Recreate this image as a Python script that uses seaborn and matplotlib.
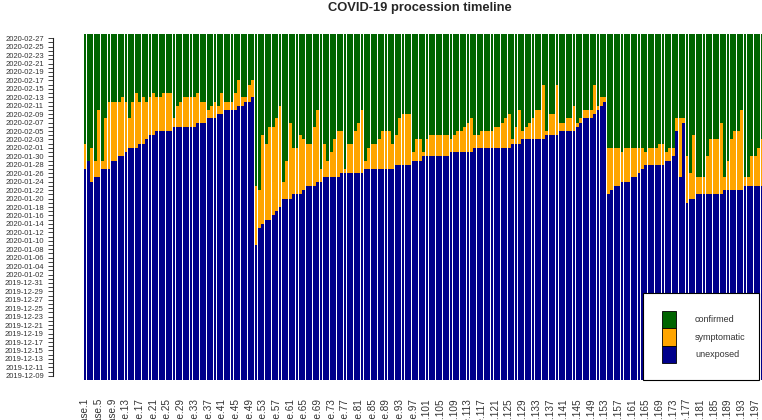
import pandas as pd
import matplotlib
matplotlib.use("Agg")
import matplotlib.pyplot as plt
import seaborn as sns
from matplotlib.patches import Rectangle

# days counted from 2019-12-08
origin = pd.Timestamp("2019-12-08")
timeline_end = 82  # 2020-02-28, every bar runs up to here

# end of the unexposed period, per case
unexposed_end = [
    50, 52, 47, 48, 48, 50, 50, 50, 52, 52, 53, 53, 54, 55, 55, 55, 56, 56, 57, 58,
    58, 59, 59, 59, 59, 59, 60, 60, 60, 60, 60, 60, 60, 61, 61, 61, 62, 62, 62, 63,
    63, 64, 64, 64, 64, 65, 65, 66, 66, 67, 32, 36, 37, 38, 38, 39, 40, 41, 43, 43,
    43, 44, 44, 44, 45, 46, 46, 46, 47, 47, 48, 48, 48, 48, 48, 49, 49, 49, 49, 49,
    49, 49, 50, 50, 50, 50, 50, 50, 50, 50, 50, 51, 51, 51, 51, 51, 52, 52, 52, 53,
    53, 53, 53, 53, 53, 53, 53, 54, 54, 54, 54, 54, 54, 54, 55, 55, 55, 55, 55, 55,
    55, 55, 55, 55, 55, 56, 56, 56, 57, 57, 57, 57, 57, 57, 57, 58, 58, 58, 58, 59,
    59, 59, 59, 59, 60, 61, 62, 62, 62, 63, 64, 65, 66, 44, 45, 46, 46, 47, 47, 47,
    48, 48, 49, 50, 51, 51, 51, 51, 51, 51, 52, 52, 53, 59, 48, 61, 42, 43, 43, 44,
    44, 44, 44, 44, 44, 44, 44, 45, 45, 45, 45, 45, 45, 46, 46, 46, 46, 46, 46, 46,
]

# end of the symptomatic period (confirmation date), per case
symptomatic_end = [
    56, 52, 55, 52, 64, 52, 62, 66, 66, 66, 66, 67, 66, 62, 66, 68, 66, 67, 66, 67,
    68, 67, 67, 68, 68, 68, 62, 65, 66, 67, 67, 67, 67, 68, 66, 66, 64, 65, 66, 65,
    68, 66, 66, 66, 68, 71, 67, 67, 70, 71, 46, 45, 58, 56, 60, 60, 62, 65, 47, 52,
    61, 55, 55, 58, 57, 56, 56, 60, 64, 50, 56, 52, 54, 57, 59, 59, 50, 56, 56, 59,
    61, 64, 52, 55, 56, 56, 57, 59, 59, 59, 56, 58, 62, 63, 63, 63, 54, 57, 57, 54,
    57, 58, 58, 58, 58, 58, 58, 57, 58, 59, 59, 60, 61, 62, 58, 58, 59, 59, 59, 59,
    60, 60, 61, 62, 63, 57, 60, 64, 59, 60, 61, 62, 64, 64, 70, 59, 63, 63, 70, 61,
    61, 62, 62, 65, 61, 62, 64, 64, 64, 70, 65, 67, 67, 55, 55, 55, 55, 54, 55, 55,
    55, 55, 55, 55, 54, 55, 55, 55, 56, 56, 54, 55, 55, 62, 62, 62, 53, 49, 58, 48,
    48, 48, 53, 57, 57, 57, 61, 48, 52, 57, 59, 59, 64, 48, 48, 53, 53, 55, 57, 57,
]

cases = [f"case.{i}" for i in range(1, len(unexposed_end) + 1)]
df = pd.DataFrame({
    "case": cases,
    "unexposed": unexposed_end,
    "symptomatic": symptomatic_end,
    "confirmed": timeline_end,
})

sns.set_style("white")
plt.rcParams["font.family"] = ["Liberation Sans", "DejaVu Sans"]

W, H = 762, 420
fig = plt.figure(figsize=(W / 100, H / 100), dpi=100)
# axes runs a little past the right edge, like the cropped original
ax = fig.add_axes([83.3 / W, 40 / H, 684 / W, 346 / H])

# draw the longest segment first, shorter ones on top -> stacked look
for col, color in [("confirmed", "#006400"), ("symptomatic", "#FFA500"), ("unexposed", "#00008B")]:
    sns.barplot(data=df, x="case", y=col, color=color, width=0.83, saturation=1,
                errorbar=None, linewidth=0, ax=ax)

n = len(cases)
ax.set_xlim(-0.5, n - 0.5)
ax.set_ylim(0, timeline_end)
ax.set_xlabel("")
ax.set_ylabel("")

# spines first: moving a spine resets the ticks
for s in ["top", "right", "bottom"]:
    ax.spines[s].set_visible(False)
ax.spines["left"].set_position(("outward", 21.8))
ax.spines["left"].set_bounds(1, timeline_end - 1)
ax.spines["left"].set_linewidth(0.8)
ax.spines["left"].set_color("#222222")

# x labels every 4th case
ax.set_xticks(range(0, n, 4))
ax.set_xticklabels(cases[::4], rotation=90)
ax.tick_params(axis="x", bottom=False, length=0, pad=13, labelsize=7.2, labelcolor="#333333")

# y axis: tick every day, label every other day
days = list(range(1, timeline_end))
ylabels = [(origin + pd.Timedelta(days=d)).strftime("%Y-%m-%d") if (d - 1) % 2 == 0 else ""
           for d in days]
ax.set_yticks(days)
ax.set_yticklabels(ylabels)
# seaborn "white" style hides ticks, turn the left ones back on
ax.tick_params(axis="y", left=True, length=3.6, width=0.6, pad=3, color="#222222",
               labelsize=5.5, labelcolor="#333333")

fig.text(420 / W, 1 - 8 / H, "COVID-19 procession timeline", ha="center", va="center",
         fontweight="bold", fontsize=9.3)


def box(x0, y0, x1, y1, **kw):
    r = Rectangle((x0 / W, 1 - y1 / H), (x1 - x0) / W, (y1 - y0) / H,
                  transform=fig.transFigure, **kw)
    fig.add_artist(r)


# legend, drawn by hand to look like the base R one
box(643, 293, 759, 380, facecolor="white", edgecolor="black", linewidth=0.8)
legend_rows = [("confirmed", "#006400", 311, 328),
               ("symptomatic", "#FFA500", 328, 346),
               ("unexposed", "#00008B", 346, 363)]
for label, color, y0, y1 in legend_rows:
    box(662, y0, 676, y1, facecolor=color, edgecolor="black", linewidth=0.6)
    fig.text(695 / W, 1 - (y0 + y1) / 2 / H, label, ha="left", va="center",
             fontsize=6.5, color="#333333")

fig.savefig("out.png", dpi=100)
